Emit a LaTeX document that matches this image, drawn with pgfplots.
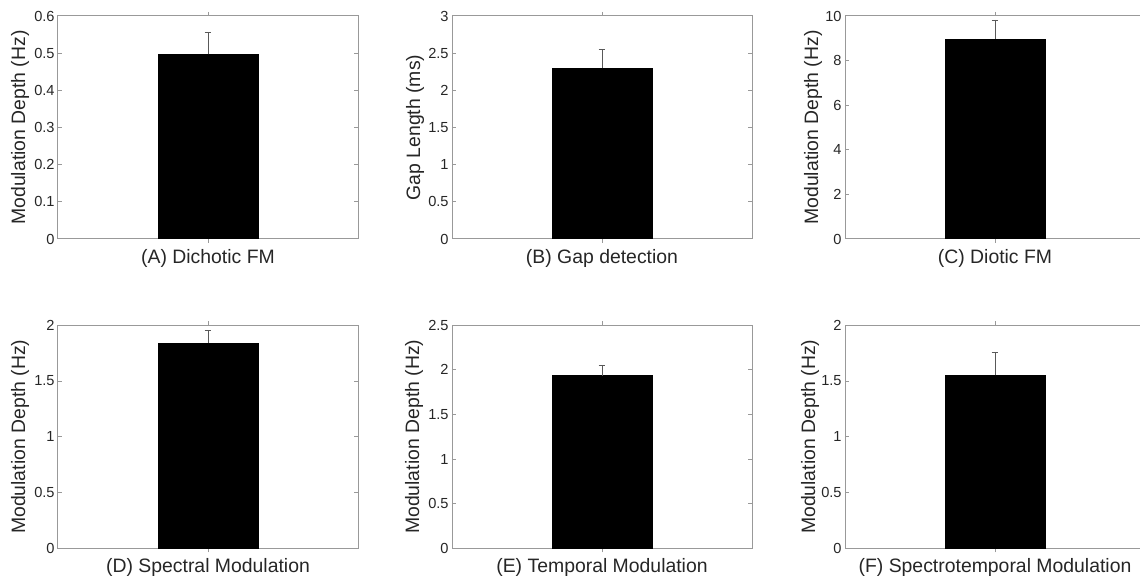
\documentclass[border=0pt]{standalone}
\usepackage{fontspec}
\setmainfont{Liberation Sans}
\usepackage{pgfplots}
\pgfplotsset{compat=1.18}

\definecolor{axgray}{gray}{0.6}
\definecolor{txt}{gray}{0.15}
\definecolor{errgray}{gray}{0.35}

\pgfplotsset{
  panel/.style={
    scale only axis, width=150pt, height=111.5pt,
    anchor=south west,
    xmin=-1.5, xmax=1.5, ymin=0,
    xtick={0}, xticklabels={},
    tick align=inside, major tick length=2pt,
    axis line style={axgray, line width=0.5pt},
    tick style={axgray, line width=0.5pt},
    /pgf/number format/assume math mode=true,
    /pgf/number format/fixed,
    yticklabel style={font=\fontsize{7.3}{8}\selectfont, text=txt, inner xsep=1.5pt},
    every axis x label/.style={at={(axis description cs:0.5,0)}, anchor=center,
      yshift=-9.5pt, font=\fontsize{9.7}{11}\selectfont, text=txt},
    every axis y label/.style={at={(axis description cs:0,0.5)}, anchor=center,
      rotate=90, yshift=19pt, font=\fontsize{9.7}{11}\selectfont, text=txt},
    ybar, bar width=1,
    error bars/y dir=plus, error bars/y explicit,
    error bars/error bar style={errgray, line width=0.5pt},
    error bars/error mark options={errgray, rotate=90, mark size=1.7pt, line width=0.5pt},
  },
  bar/.style={fill=black, draw=black, line width=0.4pt},
}

\begin{document}
\begin{tikzpicture}
\useasboundingbox (0,0) rectangle (570pt,288pt);

% (A)
\begin{axis}[panel, at={(29pt,168.5pt)},
  ymax=0.6, ytick={0,0.1,...,0.6},
  xlabel={(A) Dichotic FM}, ylabel={Modulation Depth (Hz)}]
  \addplot[bar] coordinates {(0,0.497) +- (0,0.059)};
\end{axis}

% (B)
\begin{axis}[panel, at={(226pt,168.5pt)},
  ymax=3, ytick={0,0.5,...,3},
  xlabel={(B) Gap detection}, ylabel={Gap Length (ms)},
  every axis y label/.append style={yshift=-0.5pt}]
  \addplot[bar] coordinates {(0,2.30) +- (0,0.255)};
\end{axis}

% (C)
\begin{axis}[panel, at={(422.5pt,168.5pt)},
  ymax=10, ytick={0,2,...,10},
  xlabel={(C) Diotic FM}, ylabel={Modulation Depth (Hz)},
  every axis y label/.append style={yshift=-3pt}]
  \addplot[bar] coordinates {(0,8.97) +- (0,0.85)};
\end{axis}

% (D)
\begin{axis}[panel, at={(29pt,13.85pt)},
  ymax=2, ytick={0,0.5,...,2},
  xlabel={(D) Spectral Modulation}, ylabel={Modulation Depth (Hz)}]
  \addplot[bar] coordinates {(0,1.84) +- (0,0.11)};
\end{axis}

% (E)
\begin{axis}[panel, at={(226pt,13.85pt)},
  ymax=2.5, ytick={0,0.5,...,2.5},
  xlabel={(E) Temporal Modulation}, ylabel={Modulation Depth (Hz)}]
  \addplot[bar] coordinates {(0,1.934) +- (0,0.112)};
\end{axis}

% (F)
\begin{axis}[panel, at={(422.5pt,13.85pt)},
  ymax=2, ytick={0,0.5,...,2},
  xlabel={(F) Spectrotemporal Modulation}, ylabel={Modulation Depth (Hz)},
  every axis y label/.append style={yshift=-1.5pt}]
  \addplot[bar] coordinates {(0,1.55) +- (0,0.21)};
\end{axis}
\end{tikzpicture}
\end{document}
